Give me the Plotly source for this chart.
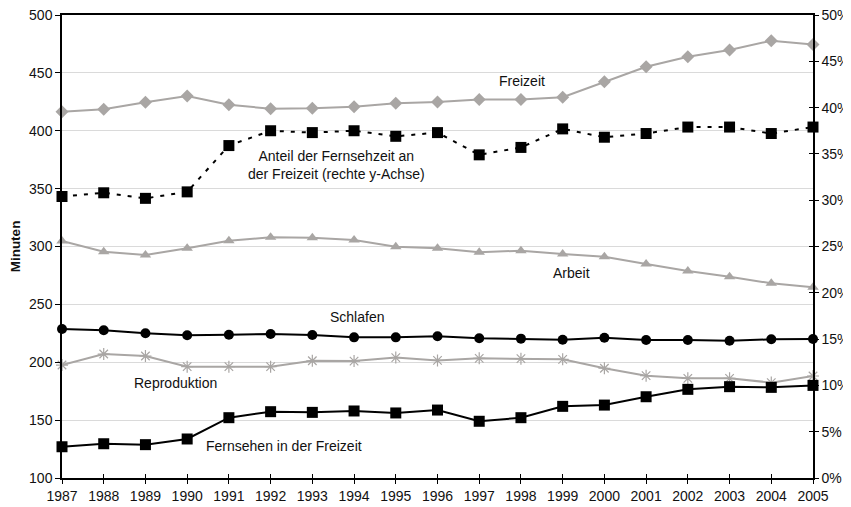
import plotly.graph_objects as go

years = list(range(1987, 2006))

freizeit = [416.5, 418.5, 424.6, 430.0, 422.5, 419.0, 419.4, 420.8, 423.7, 424.8,
            427.1, 427.0, 428.9, 442.4, 455.3, 464.0, 469.8, 477.8, 474.6]
anteil = [0.304, 0.308, 0.302, 0.309, 0.359, 0.375, 0.373, 0.375, 0.369, 0.373,
          0.349, 0.357, 0.377, 0.368, 0.372, 0.379, 0.379, 0.372, 0.379]
arbeit = [304.7, 295.5, 292.7, 298.4, 305.0, 307.9, 307.5, 305.6, 299.8, 298.4,
          295.0, 296.4, 293.5, 291.2, 284.9, 278.8, 273.9, 268.2, 264.7]
schlafen = [228.7, 227.6, 225.0, 223.3, 223.8, 224.4, 223.5, 221.5, 221.5, 222.4,
            220.7, 220.4, 219.5, 221.2, 219.2, 219.2, 218.6, 219.8, 220.1]
reproduktion = [197.6, 207.1, 205.4, 196.2, 196.2, 196.2, 201.3, 201.0, 204.0, 201.6,
                203.4, 203.1, 202.5, 194.8, 188.4, 186.1, 186.1, 182.4, 188.1]
fernsehen = [127.0, 129.6, 128.8, 133.7, 152.1, 157.3, 156.7, 157.9, 156.2, 158.7,
             149.0, 152.1, 161.9, 163.0, 170.2, 176.6, 178.9, 178.3, 180.0]

left_ticks = [100, 150, 200, 250, 300, 350, 400, 450, 500]
right_ticks = [i / 100 for i in range(0, 51, 5)]
right_labels = [f"{i}%" for i in range(0, 51, 5)]

GREY = "#A9A6A4"
BLACK = "#000000"
FONT = "Liberation Sans, Arial, sans-serif"

fig = go.Figure()

fig.add_trace(go.Scatter(x=years, y=freizeit, mode="lines+markers", cliponaxis=False,
                         line=dict(color=GREY, width=2),
                         marker=dict(symbol="diamond", size=10, color=GREY)))
fig.add_trace(go.Scatter(x=years, y=arbeit, mode="lines+markers", cliponaxis=False,
                         line=dict(color=GREY, width=2),
                         marker=dict(symbol="triangle-up", size=10, color=GREY)))
fig.add_trace(go.Scatter(x=years, y=reproduktion, mode="lines+markers", cliponaxis=False,
                         line=dict(color=GREY, width=2),
                         marker=dict(symbol="asterisk-open", size=10, color=GREY,
                                     line=dict(color=GREY, width=1.2))))
fig.add_trace(go.Scatter(x=years, y=schlafen, mode="lines+markers", cliponaxis=False,
                         line=dict(color=BLACK, width=2),
                         marker=dict(symbol="circle", size=10, color=BLACK)))
fig.add_trace(go.Scatter(x=years, y=fernsehen, mode="lines+markers", cliponaxis=False,
                         line=dict(color=BLACK, width=2),
                         marker=dict(symbol="square", size=11, color=BLACK)))
fig.add_trace(go.Scatter(x=years, y=anteil, mode="lines+markers", cliponaxis=False,
                         yaxis="y2",
                         line=dict(color=BLACK, width=2, dash="4px,7px"),
                         marker=dict(symbol="square", size=11, color=BLACK)))
# invisible helpers so the tick-overlay axes are drawn
fig.add_trace(go.Scatter(x=years, y=schlafen, xaxis="x3", yaxis="y", mode="markers",
                         marker=dict(opacity=0), hoverinfo="skip"))
fig.add_trace(go.Scatter(x=years, y=anteil, xaxis="x", yaxis="y3", mode="markers",
                         marker=dict(opacity=0), hoverinfo="skip"))

ann_font = dict(family=FONT, size=14, color="#111111")
annotations = [
    dict(x=1998.03, y=443, text="Freizeit"),
    dict(x=1993.59, y=370.5, text="Anteil der Fernsehzeit an<br>der Freizeit (rechte y-Achse)"),
    dict(x=1999.22, y=277.5, text="Arbeit"),
    dict(x=1994.07, y=239, text="Schlafen"),
    dict(x=1989.73, y=182.5, text="Reproduktion"),
    dict(x=1992.32, y=127.5, text="Fernsehen in der Freizeit"),
]
for a in annotations:
    a.update(xref="x", yref="y", showarrow=False, font=ann_font, align="center")

# the page body adds an 8px offset, so the figure is sized to the remaining window
fig.update_layout(
    width=843, height=499,
    margin=dict(l=54, r=38, t=7, b=29),
    paper_bgcolor="white", plot_bgcolor="white",
    showlegend=False,
    font=dict(family=FONT, size=14, color="#111111"),
    annotations=annotations,
    xaxis=dict(range=[1987, 2005], tickmode="array", tickvals=years,
               ticktext=[str(y) for y in years], automargin=False,
               ticklabeloverflow="allow",
               showline=True, linecolor=BLACK, linewidth=1.5, mirror=True,
               ticks="outside", ticklen=4, tickcolor=BLACK, tickwidth=1,
               showgrid=False, zeroline=False, tickfont=dict(size=14)),
    xaxis3=dict(range=[1987, 2005], overlaying="x", anchor="y", side="bottom",
                tickmode="array", tickvals=years, ticks="inside", ticklen=4,
                tickcolor=BLACK, tickwidth=1, showticklabels=False, automargin=False,
                showline=False, showgrid=False, zeroline=False),
    yaxis=dict(range=[100, 500], tickmode="array", tickvals=left_ticks,
               automargin=False, ticklabeloverflow="allow",
               showline=True, linecolor=BLACK, linewidth=1.5,
               ticks="outside", ticklen=5, tickcolor=BLACK, tickwidth=1,
               showgrid=True, gridcolor="#DADADA", gridwidth=1, zeroline=False,
               title=dict(text="<b>Minuten</b>", font=dict(size=13.5)),
               tickfont=dict(size=14)),
    yaxis2=dict(range=[0, 0.5], overlaying="y", side="right", tickmode="array",
                tickvals=right_ticks, ticktext=right_labels, automargin=False,
                ticklabeloverflow="allow",
                showline=True, linecolor=BLACK, linewidth=1.5,
                ticks="outside", ticklen=4, tickcolor=BLACK, tickwidth=1,
                showgrid=False, zeroline=False, tickfont=dict(size=14)),
    yaxis3=dict(range=[0, 0.5], overlaying="y", side="right", anchor="x",
                tickmode="array", tickvals=right_ticks, ticks="inside", ticklen=4,
                tickcolor=BLACK, tickwidth=1, showticklabels=False, automargin=False,
                showline=False, showgrid=False, zeroline=False),
)

fig.write_html("out.html")
